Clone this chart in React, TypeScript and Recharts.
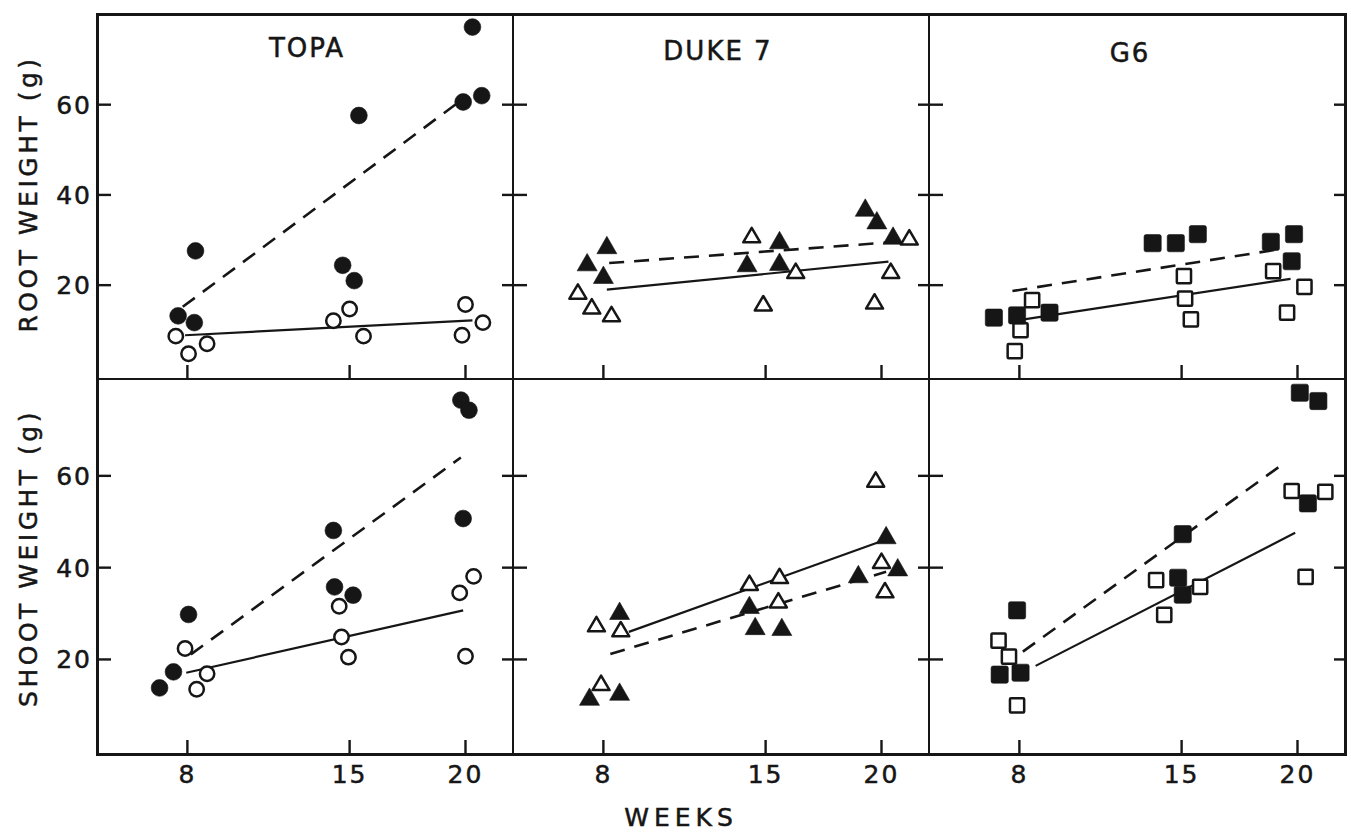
import React from 'react';
import { ScatterChart, Scatter, XAxis, YAxis } from 'recharts';

const INK = '#161616';
const FONT = '"DejaVu Sans", sans-serif';

const CULTIVARS = ['TOPA', 'DUKE 7', 'G6'];
const WEEK_TICKS = [8, 15, 20];
const WEIGHT_TICKS = [20, 40, 60];

type Pt = [number, number]; // [week, grams]

// root weight, top row
const topaRootFilled: Pt[] = [[20.3, 77.2], [19.9, 60.6], [20.7, 62.0], [15.4, 57.6], [8.35, 27.6], [14.7, 24.4], [15.2, 21.0], [7.6, 13.2], [8.3, 11.7]];
const topaRootOpen: Pt[] = [[7.5, 8.7], [8.05, 4.8], [8.85, 7.0], [14.3, 12.1], [15.0, 14.7], [15.6, 8.7], [20.0, 15.7], [20.75, 11.7], [19.85, 8.9]];
const topaRootDashed: Pt[] = [[7.8, 15.2], [19.9, 61.3]];
const topaRootSolid: Pt[] = [[7.9, 8.9], [20.3, 12.2]];

const dukeRootFilled: Pt[] = [[8.15, 28.9], [7.3, 25.1], [8.0, 22.3], [14.2, 24.9], [15.6, 30.0], [15.6, 25.2], [19.3, 37.2], [19.8, 34.4], [20.5, 31.0]];
const dukeRootOpen: Pt[] = [[6.9, 18.6], [7.5, 15.3], [8.35, 13.6], [14.4, 31.1], [14.9, 16.0], [16.3, 23.2], [19.7, 16.4], [20.4, 23.2], [21.2, 30.6]];
const dukeRootDashed: Pt[] = [[8.25, 24.9], [20.4, 29.5]];
const dukeRootSolid: Pt[] = [[8.15, 19.0], [20.3, 25.2]];

const g6RootFilled: Pt[] = [[6.9, 12.8], [7.9, 13.3], [9.3, 13.9], [13.75, 29.3], [14.75, 29.3], [15.7, 31.3], [18.85, 29.6], [19.85, 31.3], [19.75, 25.3]];
const g6RootOpen: Pt[] = [[7.8, 5.4], [8.05, 10.0], [8.55, 16.7], [15.1, 22.0], [15.15, 17.0], [15.4, 12.4], [18.95, 23.1], [19.55, 13.9], [20.3, 19.6]];
const g6RootDashed: Pt[] = [[7.7, 18.7], [19.4, 28.1]];
const g6RootSolid: Pt[] = [[8.2, 12.4], [19.7, 21.4]];

// shoot weight, bottom row
const topaShootFilled: Pt[] = [[19.8, 76.5], [20.15, 74.3], [19.9, 50.7], [14.3, 48.1], [14.35, 35.8], [15.15, 34.0], [8.05, 29.8], [7.4, 17.3], [6.8, 13.8]];
const topaShootOpen: Pt[] = [[7.9, 22.4], [8.85, 16.9], [8.4, 13.5], [14.55, 31.6], [14.65, 24.9], [14.95, 20.5], [19.75, 34.5], [20.35, 38.1], [20.0, 20.7]];
const topaShootDashed: Pt[] = [[8.15, 21.1], [19.8, 64.0]];
const topaShootSolid: Pt[] = [[7.95, 17.1], [19.9, 30.7]];

const dukeShootFilled: Pt[] = [[8.7, 30.6], [7.4, 11.9], [8.7, 13.0], [14.3, 31.9], [14.55, 27.3], [15.7, 27.1], [19.0, 38.6], [20.2, 47.1], [20.7, 40.1]];
const dukeShootOpen: Pt[] = [[7.7, 27.7], [8.75, 26.6], [7.9, 14.9], [14.3, 36.7], [15.6, 38.2], [15.55, 32.9], [19.75, 59.2], [20.0, 41.5], [20.15, 35.1]];
const dukeShootDashed: Pt[] = [[8.3, 21.2], [20.2, 39.1]];
const dukeShootSolid: Pt[] = [[9.1, 26.0], [19.9, 45.6]];

const g6ShootFilled: Pt[] = [[20.1, 78.1], [20.9, 76.3], [20.45, 54.0], [15.05, 47.3], [14.85, 37.8], [15.05, 34.1], [7.9, 30.7], [7.15, 16.7], [8.05, 17.1]];
const g6ShootOpen: Pt[] = [[19.75, 56.7], [21.2, 56.5], [20.35, 38.0], [13.9, 37.3], [15.8, 35.8], [14.25, 29.7], [7.1, 24.1], [7.55, 20.6], [7.9, 10.0]];
const g6ShootDashed: Pt[] = [[8.15, 21.7], [19.35, 62.5]];
const g6ShootSolid: Pt[] = [[8.7, 18.6], [19.9, 47.6]];

const toRows = (pts: Pt[]) => pts.map(([week, grams]) => ({ week, grams }));

// frame geometry
const LEFT = 97;
const TOP = 14;
const COL_W = 416;
const ROW_H = [365, 375];
const X_DOMAIN = [4.1, 22.05];
const Y_DOMAINS = [[-0.8, 80.1], [-0.6, 81.1]];

// slightly heavier lettering, like the original typeset labels
const textStyle = { fontFamily: FONT, fill: INK, stroke: INK, strokeWidth: 0.5 };

type Kind = 'circle' | 'triangle' | 'square';

const markerShape = (kind: Kind, filled: boolean) => (p: any) => {
  const { cx, cy } = p;
  if (cx == null || cy == null) return <g />;
  const fill = filled ? INK : '#fff';
  const sw = filled ? 0.6 : 2.5;
  if (kind === 'circle') {
    return <circle cx={cx} cy={cy} r={filled ? 8.4 : 7.2} fill={fill} stroke={INK} strokeWidth={sw} />;
  }
  if (kind === 'triangle') {
    const hw = filled ? 10 : 8.5;
    const hh = filled ? 8.7 : 7.2;
    return (
      <path
        d={`M${cx},${cy - hh} L${cx + hw},${cy + hh} L${cx - hw},${cy + hh} Z`}
        fill={fill} stroke={INK} strokeWidth={sw} strokeLinejoin="round"
      />
    );
  }
  const s = filled ? 8.6 : 7.1;
  return <rect x={cx - s} y={cy - s} width={s * 2} height={s * 2} rx={filled ? 2 : 1} fill={fill} stroke={INK} strokeWidth={sw} />;
};

const noShape = () => <g />;

type PanelProps = {
  col: number;
  row: number;
  kind: Kind;
  filled: Pt[];
  open: Pt[];
  dashed: Pt[];
  solid: Pt[];
};

const Panel = ({ col, row, kind, filled, open, dashed, solid }: PanelProps) => {
  const ml = col === 0 ? LEFT : 0;
  const mb = row === 1 ? 40 : 0;
  const h = ROW_H[row];
  const left = LEFT + col * COL_W - ml;
  const top = row === 0 ? TOP : TOP + ROW_H[0];

  const weekTick = (p: any) =>
    row === 1 ? (
      <text x={p.x} y={h + 29} textAnchor="middle" fontSize={25} letterSpacing={2} {...textStyle}>
        {p.payload.value}
      </text>
    ) : <g />;

  const weightTick = (p: any) =>
    col === 0 ? (
      <text x={ml - 5} y={p.y} dy="0.36em" textAnchor="end" fontSize={25} letterSpacing={2} {...textStyle}>
        {p.payload.value}
      </text>
    ) : <g />;

  return (
    <div style={{ position: 'absolute', left, top }}>
      <ScatterChart width={COL_W + ml} height={h + mb} margin={{ top: 0, right: 0, bottom: mb, left: ml }}>
        <XAxis
          dataKey="week" type="number" domain={X_DOMAIN} ticks={WEEK_TICKS} interval={0}
          allowDataOverflow mirror axisLine={false} tickSize={14}
          tickLine={{ stroke: INK, strokeWidth: 2.4 }} tick={weekTick}
        />
        <YAxis
          dataKey="grams" type="number" domain={Y_DOMAINS[row]} ticks={WEIGHT_TICKS} interval={0}
          allowDataOverflow mirror axisLine={false} tickSize={14}
          tickLine={{ stroke: INK, strokeWidth: 2.4 }} tick={weightTick}
        />
        <YAxis
          yAxisId="r" orientation="right" dataKey="grams" type="number" domain={Y_DOMAINS[row]}
          ticks={WEIGHT_TICKS} interval={0} allowDataOverflow mirror axisLine={false} tickSize={11}
          tickLine={{ stroke: INK, strokeWidth: 2.4 }} tick={() => <g />}
        />
        <Scatter
          yAxisId="r" data={toRows(dashed)} isAnimationActive={false} shape={noShape}
          line={{ stroke: INK, strokeWidth: 2.6, strokeDasharray: '15 10' }}
        />
        <Scatter
          yAxisId="r" data={toRows(solid)} isAnimationActive={false} shape={noShape}
          line={{ stroke: INK, strokeWidth: 2.2 }}
        />
        <Scatter data={toRows(open)} isAnimationActive={false} shape={markerShape(kind, false)} />
        <Scatter data={toRows(filled)} isAnimationActive={false} shape={markerShape(kind, true)} />
      </ScatterChart>
    </div>
  );
};

const panels: PanelProps[] = [
  { col: 0, row: 0, kind: 'circle', filled: topaRootFilled, open: topaRootOpen, dashed: topaRootDashed, solid: topaRootSolid },
  { col: 1, row: 0, kind: 'triangle', filled: dukeRootFilled, open: dukeRootOpen, dashed: dukeRootDashed, solid: dukeRootSolid },
  { col: 2, row: 0, kind: 'square', filled: g6RootFilled, open: g6RootOpen, dashed: g6RootDashed, solid: g6RootSolid },
  { col: 0, row: 1, kind: 'circle', filled: topaShootFilled, open: topaShootOpen, dashed: topaShootDashed, solid: topaShootSolid },
  { col: 1, row: 1, kind: 'triangle', filled: dukeShootFilled, open: dukeShootOpen, dashed: dukeShootDashed, solid: dukeShootSolid },
  { col: 2, row: 1, kind: 'square', filled: g6ShootFilled, open: g6ShootOpen, dashed: g6ShootDashed, solid: g6ShootSolid },
];

const TITLE_POS = [[307, 57], [718, 60], [1130, 62]];

export default function App() {
  const fullW = COL_W * 3;
  const fullH = ROW_H[0] + ROW_H[1];
  return (
    <div style={{ position: 'absolute', left: 0, top: 0, width: 1351, height: 836, background: '#fff', overflow: 'hidden' }}>
      {panels.map((p) => (
        <Panel key={`${p.col}-${p.row}`} {...p} />
      ))}
      {/* frame and dividers */}
      <div style={{ position: 'absolute', left: LEFT - 1.5, top: TOP - 1.5, width: fullW + 3, height: fullH + 3, border: `3px solid ${INK}`, boxSizing: 'border-box' }} />
      {[1, 2].map((c) => (
        <div key={c} style={{ position: 'absolute', left: LEFT + c * COL_W - 1.25, top: TOP, width: 2.5, height: fullH, background: INK }} />
      ))}
      <div style={{ position: 'absolute', left: LEFT, top: TOP + ROW_H[0] - 1.25, width: fullW, height: 2.5, background: INK }} />
      <svg width={1351} height={836} style={{ position: 'absolute', left: 0, top: 0, pointerEvents: 'none' }}>
        {CULTIVARS.map((name, i) => (
          <text key={name} x={TITLE_POS[i][0]} y={TITLE_POS[i][1]} textAnchor="middle" fontSize={26} letterSpacing={2} {...textStyle}>
            {name}
          </text>
        ))}
        <text transform="translate(37,194) rotate(-90)" textAnchor="middle" fontSize={25} letterSpacing={3.5} {...textStyle}>
          ROOT WEIGHT (g)
        </text>
        <text transform="translate(37,558) rotate(-90)" textAnchor="middle" fontSize={25} letterSpacing={3.5} {...textStyle}>
          SHOOT WEIGHT (g)
        </text>
        <text x={681} y={826} textAnchor="middle" fontSize={25} letterSpacing={5} {...textStyle}>
          WEEKS
        </text>
      </svg>
    </div>
  );
}
